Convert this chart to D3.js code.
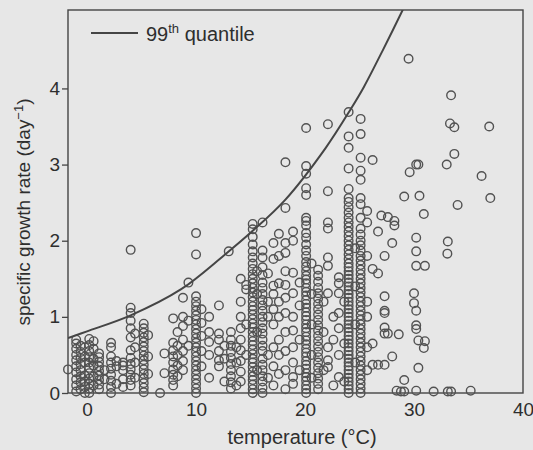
<!DOCTYPE html>
<html>
<head>
<meta charset="utf-8">
<script src="https://cdn.jsdelivr.net/npm/d3@7/dist/d3.min.js"></script>
<style>
  body { margin: 0; background: #e7e7e7; }
  svg { display: block; }
  text { font-family: "Liberation Sans", Arial, sans-serif; fill: #2e2e2e; }
</style>
</head>
<body>
<svg width="533" height="450"></svg>
<script>
// temperature of each column of measurements (°C)
var columnTemps = [-1.75, -1.0, -0.6, -0.2, 0.2, 0.6, 1.1, 1.6, 2.2, 2.7, 3.3, 4.0, 4.4, 5.2, 5.6, 6.7, 7.1, 7.9, 8.3, 8.8, 9.3,
  10.0, 10.5, 11.2, 12.1, 12.6, 13.0, 13.2, 13.7, 14.1, 14.6, 15.2, 15.6, 16.1, 16.6, 17.1, 17.6, 18.2, 18.9, 19.5,
  20.1, 20.6, 21.2, 21.7, 22.1, 22.6, 23.1, 23.6, 24.0, 24.6, 25.1, 25.7, 26.2, 26.7, 27.0, 27.3, 27.6, 28.0, 28.2,
  28.4, 28.6, 28.8, 29.1, 29.5, 29.6, 30.0, 30.2, 30.4, 30.5, 30.9, 31.0, 31.8, 33.0, 33.06, 33.1, 33.3, 33.4, 33.7,
  34.0, 35.2, 36.2, 36.9, 37.0];

var columnRates = [
  [0.31],
  [0.02, 0.1, 0.18, 0.27, 0.35, 0.43, 0.5, 0.58, 0.65, 0.7],
  [0.05, 0.14, 0.22, 0.3, 0.38, 0.46, 0.54, 0.62],
  [0.0, 0.08, 0.15, 0.23, 0.4, 0.48, 0.6],
  [0.0, 0.06, 0.12, 0.19, 0.26, 0.33, 0.4, 0.47, 0.55, 0.63, 0.71],
  [0.1, 0.22, 0.36, 0.45, 0.58, 0.68],
  [0.05, 0.11, 0.17, 0.23, 0.29, 0.35, 0.41, 0.47, 0.52],
  [0.18, 0.3],
  [0.0, 0.08, 0.16, 0.24, 0.32, 0.4, 0.48, 0.6, 0.66],
  [0.12, 0.35, 0.42],
  [0.08, 0.18, 0.3, 0.36, 0.4],
  [0.1, 0.17, 0.24, 0.31, 0.38, 0.46, 0.56, 0.73, 0.85, 0.95, 1.05, 1.12, 1.88],
  [0.2, 0.4, 0.6, 0.78],
  [0.01, 0.07, 0.13, 0.19, 0.25, 0.31, 0.37, 0.43, 0.49, 0.55, 0.61, 0.67, 0.73, 0.79, 0.85, 0.91],
  [0.25, 0.48, 0.76],
  [0.0],
  [0.26, 0.52],
  [0.1, 0.17, 0.24, 0.31, 0.4, 0.48, 0.56, 0.66, 0.98],
  [0.22, 0.36, 0.5, 0.62, 0.8],
  [0.3, 0.42, 0.55, 0.7, 0.88, 1.0, 1.25],
  [0.62, 0.95, 1.45],
  [0.0, 0.06, 0.12, 0.18, 0.24, 0.3, 0.36, 0.42, 0.48, 0.54, 0.6, 0.66, 0.72, 0.78, 0.84, 0.9, 0.96, 1.02, 1.08, 1.14, 1.2, 1.27, 1.82, 2.1],
  [0.35, 0.55, 0.75, 0.92, 1.1],
  [0.2, 0.5, 0.67, 0.8, 1.0],
  [0.35, 0.43, 0.55, 0.7, 0.78, 1.15],
  [0.15, 0.45, 0.62],
  [1.86],
  [0.06, 0.14, 0.22, 0.3, 0.38, 0.46, 0.54, 0.62, 0.7, 0.8],
  [0.1, 0.4, 0.6],
  [0.15, 0.28, 0.42, 0.56, 0.7, 0.85, 1.0, 1.2, 1.5],
  [0.5, 0.9, 1.36, 1.42],
  [0.0, 0.05, 0.11, 0.17, 0.22, 0.28, 0.34, 0.4, 0.45, 0.51, 0.57, 0.63, 0.68, 0.74, 0.8, 0.86, 0.91, 0.97, 1.03, 1.09, 1.14, 1.2, 1.26, 1.32, 1.38, 1.44, 1.5, 1.56, 1.63, 1.7, 1.78, 1.86, 1.95, 2.05, 2.15, 2.22],
  [0.3, 0.8, 1.3, 1.6],
  [0.0, 0.07, 0.15, 0.22, 0.3, 0.37, 0.45, 0.55, 0.62, 0.7, 0.78, 0.85, 0.93, 1.0, 1.08, 1.15, 1.22, 1.3, 1.38, 1.45, 1.55, 1.65, 1.78, 1.87, 2.24],
  [0.2, 0.5, 1.0, 1.2, 1.57],
  [0.1, 0.35, 0.6, 0.9, 1.1, 1.3, 1.41, 1.76, 1.97],
  [0.25, 0.5, 0.7, 1.0, 1.2, 1.44, 1.8, 2.09],
  [0.05, 0.3, 0.55, 0.8, 1.05, 1.25, 1.42, 1.6, 1.84, 1.97, 2.43, 3.03],
  [0.12, 0.21, 0.4, 0.6, 0.82, 1.0, 1.31, 1.58, 2.0, 2.12],
  [0.3, 0.7, 1.15, 1.45],
  [0.0, 0.05, 0.1, 0.16, 0.21, 0.26, 0.32, 0.37, 0.42, 0.48, 0.53, 0.58, 0.64, 0.69, 0.74, 0.8, 0.85, 0.9, 0.96, 1.01, 1.06, 1.12, 1.17, 1.22, 1.28, 1.33, 1.38, 1.44, 1.49, 1.54, 1.6, 1.66, 1.72, 1.8, 1.87, 1.95, 2.04, 2.1, 2.2, 2.26, 2.3, 2.6, 2.69, 2.88, 2.98, 3.48],
  [0.2, 0.5, 0.9, 1.3, 1.7],
  [0.05, 0.12, 0.19, 0.26, 0.33, 0.4, 0.47, 0.54, 0.61, 0.68, 0.75, 0.82, 0.89, 0.96, 1.03, 1.1, 1.17, 1.24, 1.31, 1.38, 1.46, 1.54, 1.62],
  [0.3, 0.8, 1.2],
  [0.34, 0.43, 0.6, 1.31, 1.67, 1.78, 2.16, 2.24, 2.65, 3.53],
  [0.1, 0.7, 1.0],
  [0.21, 0.5, 0.85, 1.05, 1.31, 1.44, 1.52],
  [0.15, 0.65, 1.2],
  [0.0, 0.05, 0.1, 0.15, 0.2, 0.25, 0.3, 0.35, 0.4, 0.45, 0.5, 0.55, 0.6, 0.65, 0.7, 0.75, 0.8, 0.85, 0.9, 0.95, 1.0, 1.05, 1.1, 1.15, 1.2, 1.25, 1.3, 1.35, 1.4, 1.45, 1.5, 1.55, 1.6, 1.65, 1.7, 1.76, 1.82, 1.88, 1.94, 2.0, 2.06, 2.12, 2.18, 2.24, 2.3, 2.37, 2.44, 2.51, 2.56, 2.68, 2.95, 3.22, 3.37, 3.69],
  [0.4, 0.9, 1.4, 1.9],
  [0.0, 0.06, 0.12, 0.18, 0.24, 0.3, 0.36, 0.42, 0.48, 0.54, 0.6, 0.66, 0.72, 0.78, 0.84, 0.9, 0.96, 1.02, 1.08, 1.14, 1.2, 1.26, 1.32, 1.38, 1.44, 1.5, 1.56, 1.62, 1.68, 1.74, 1.8, 1.87, 1.94, 2.0, 2.08, 2.16, 2.3, 2.48, 2.56, 2.8, 2.92, 3.09, 3.4, 3.6],
  [0.3, 0.6, 1.0, 1.2, 1.8, 2.24, 2.39],
  [0.37, 0.65, 1.63, 3.06],
  [0.37, 1.57, 2.12],
  [2.33],
  [0.37, 0.78, 0.86, 1.05, 1.08, 1.27, 1.8],
  [0.78, 2.31],
  [0.48, 1.97],
  [2.2, 2.26],
  [0.03],
  [0.77],
  [0.02],
  [0.02, 0.17, 2.58],
  [4.39],
  [2.9],
  [1.18, 1.31],
  [0.03, 0.84, 0.89, 1.08, 1.67, 1.86, 2.04, 3.0],
  [0.33, 0.69, 3.0],
  [2.59],
  [0.59, 2.35],
  [0.68, 1.67],
  [0.02],
  [3.0],
  [1.83],
  [0.02, 1.99],
  [3.54],
  [0.02, 3.91],
  [3.14, 3.49],
  [2.47],
  [0.03],
  [2.85],
  [3.5],
  [2.56]
];

// 99th quantile curve
var quantileTemps = [-1.75, 0, 4, 8.6, 12.5, 15.2, 18.2, 21.9, 24.2, 25.4, 27.2, 29.2];
var quantileRates = [0.72, 0.81, 1.02, 1.36, 1.8, 2.13, 2.54, 3.22, 3.73, 4.02, 4.52, 5.1];

var xTicks = [0, 10, 20, 30, 40];
var yTicks = [0, 1, 2, 3, 4];

var points = [];
columnTemps.forEach(function(t, i) {
  columnRates[i].forEach(function(r) { points.push({t: t, r: r}); });
});

var svg = d3.select("svg");
var plotLeft = 68, plotRight = 523, plotTop = 10, plotBottom = 393;

var x = d3.scaleLinear().domain([-1.75, 40]).range([plotLeft, plotRight]);
var y = d3.scaleLinear().domain([0, 5.03]).range([plotBottom, plotTop]);

svg.append("defs").append("clipPath").attr("id", "plotclip")
  .append("rect")
    .attr("x", plotLeft).attr("y", plotTop)
    .attr("width", plotRight - plotLeft).attr("height", plotBottom - plotTop);

// frame
svg.append("rect")
    .attr("x", plotLeft).attr("y", plotTop)
    .attr("width", plotRight - plotLeft).attr("height", plotBottom - plotTop)
    .attr("fill", "none")
    .attr("stroke", "#454545")
    .attr("stroke-width", 1.4);

var yAxis = svg.append("g")
    .attr("transform", "translate(" + plotLeft + ",0)")
    .call(d3.axisLeft(y).tickValues(yTicks).tickSize(6).tickPadding(2).tickFormat(d3.format("d")));
yAxis.select(".domain").remove();
yAxis.selectAll("line").attr("stroke", "#454545").attr("stroke-width", 1.3);
yAxis.selectAll("text").style("font-size", "19px").attr("fill", "#2e2e2e");

var xAxis = svg.append("g")
    .attr("transform", "translate(0," + plotBottom + ")")
    .call(d3.axisBottom(x).tickValues(xTicks).tickSize(0).tickPadding(10).tickFormat(d3.format("d")));
xAxis.select(".domain").remove();
xAxis.selectAll("text").style("font-size", "19px").attr("fill", "#2e2e2e");

// points
svg.append("g")
  .selectAll("circle")
  .data(points)
  .enter().append("circle")
    .attr("cx", function(d) { return x(d.t); })
    .attr("cy", function(d) { return y(d.r); })
    .attr("r", 4.3)
    .attr("fill", "none")
    .attr("stroke", "#525252")
    .attr("stroke-width", 1.4);

// quantile curve
var line = d3.line()
    .x(function(d, i) { return x(quantileTemps[i]); })
    .y(function(d) { return y(d); })
    .curve(d3.curveCatmullRom.alpha(0.5));

svg.append("path")
    .datum(quantileRates)
    .attr("clip-path", "url(#plotclip)")
    .attr("d", line)
    .attr("fill", "none")
    .attr("stroke", "#454545")
    .attr("stroke-width", 2);

// legend
svg.append("line")
    .attr("x1", 91).attr("x2", 138)
    .attr("y1", 33).attr("y2", 33)
    .attr("stroke", "#454545")
    .attr("stroke-width", 2);

var leg = svg.append("text")
    .attr("x", 146).attr("y", 41)
    .style("font-size", "20px");
leg.append("tspan").text("99");
leg.append("tspan").attr("dy", -8).style("font-size", "13px").text("th");
leg.append("tspan").attr("dy", 8).text(" quantile");

// axis titles
svg.append("text")
    .attr("x", 302).attr("y", 444)
    .attr("text-anchor", "middle")
    .style("font-size", "20px")
    .text("temperature (°C)");

var ylab = svg.append("text")
    .attr("transform", "translate(30,212) rotate(-90)")
    .attr("text-anchor", "middle")
    .style("font-size", "19px");
ylab.append("tspan").text("specific growth rate (day");
ylab.append("tspan").attr("dy", -7).style("font-size", "13px").text("\u22121");
ylab.append("tspan").attr("dy", 7).text(")");
</script>
</body>
</html>
